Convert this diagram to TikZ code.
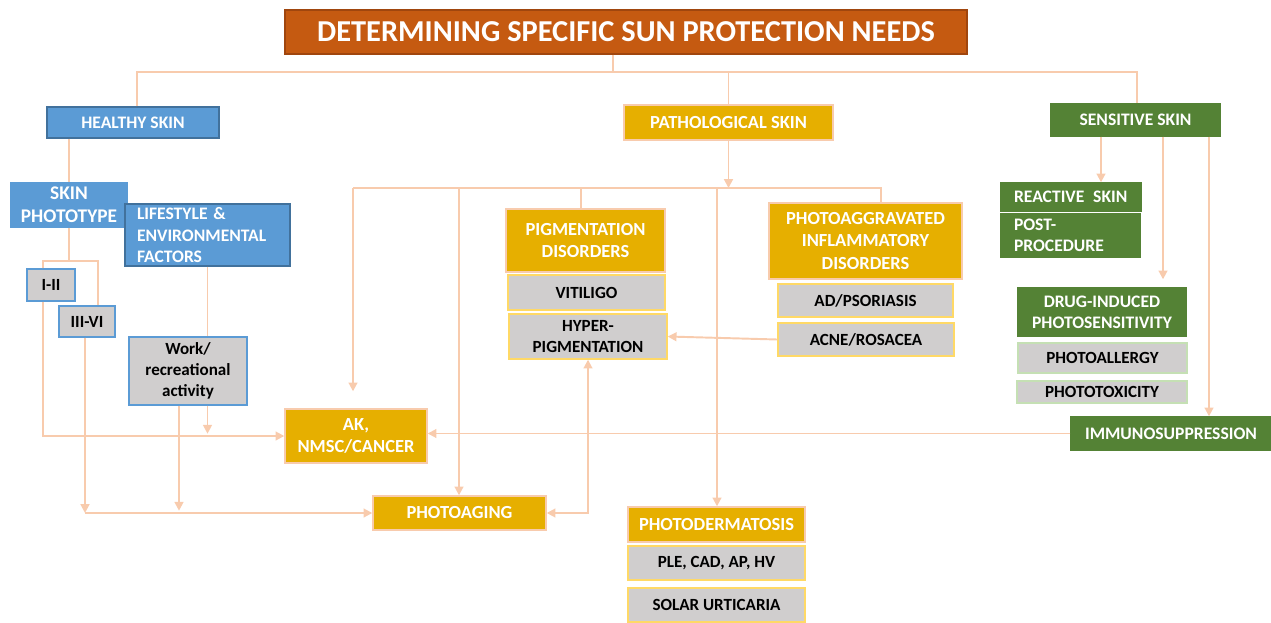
\documentclass[tikz,border=0pt]{standalone}
\usepackage{fontspec}
\setmainfont{Carlito}
\usetikzlibrary{
  arrows.meta, % Triangle arrow tips
  calc         % shifted end points
}
\definecolor{titleorange}{HTML}{C55A11}
\definecolor{titleline}{HTML}{A0460E}
\definecolor{skyblue}{HTML}{5B9BD5}
\definecolor{blueline}{HTML}{41719C}
\definecolor{goldfill}{HTML}{E6AF00}
\definecolor{peach}{HTML}{F8CBAD}
\definecolor{greyfill}{HTML}{D0CECE}
\definecolor{yellowline}{HTML}{FFD966}
\definecolor{leaf}{HTML}{548235}
\definecolor{mint}{HTML}{C5E0B4}
\newlength{\pix}
\setlength{\pix}{0.02cm}

\begin{document}
\begin{tikzpicture}[x=0.02cm, y=-0.02cm,
  >={Triangle[width=5pt, length=5pt]},
  boxsize/.style 2 args={minimum width=#1\pix, minimum height=#2\pix},
  box/.style={draw, line width=0.8pt, inner sep=0pt, align=center,
    font=\bfseries\fontsize{10}{12}\selectfont},
  titlebox/.style={box, fill=titleorange, draw=titleline, text=white,
    font=\bfseries\fontsize{17.3}{20}\selectfont},
  bluebox/.style={box, fill=skyblue, draw=blueline, text=white},
  goldbox/.style={box, fill=goldfill, draw=peach, text=white,
    font=\bfseries\fontsize{10.5}{12.6}\selectfont},
  greenbox/.style={box, fill=leaf, draw=leaf, text=white},
  greybox/.style={box, fill=greyfill, text=black,
    font=\bfseries\fontsize{9.7}{11.8}\selectfont},
  link/.style={draw=peach, line width=1.1pt},
  arr/.style={link, ->},
  both/.style={link, <->}]

  \useasboundingbox (0,0) rectangle (1271,622);

  % =========== title and the three skin groups ===========
  \node[titlebox, boxsize={682}{44}] (title) at (626,32)
    {DETERMINING SPECIFIC SUN PROTECTION NEEDS};
  \node[bluebox, boxsize={172}{31}] (healthy) at (133,122.5) {HEALTHY SKIN};
  \node[goldbox, boxsize={209}{35}] (pathological) at (728.5,122.5) {PATHOLOGICAL SKIN};
  \node[greenbox, boxsize={169}{32}] (sensitive) at (1135.5,120) {SENSITIVE SKIN};

  % =========== healthy skin ===========
  \node[bluebox, draw=skyblue, boxsize={116}{44},
    font=\bfseries\fontsize{11}{13}\selectfont] (phototype) at (69,205) {SKIN\\PHOTOTYPE};
  \node[bluebox, boxsize={165}{62}, text width=141\pix, align=left] (lifestyle)
    at (207.5,235) {LIFESTYLE \&\\ENVIRONMENTAL\\FACTORS};
  \node[greybox, draw=skyblue, boxsize={48}{32}] (oneII) at (51,285) {I-II};
  \node[greybox, draw=skyblue, boxsize={56}{31}] (threeVI) at (87,321.5) {III-VI};
  \node[greybox, draw=skyblue, boxsize={118}{68}] (work) at (188,371)
    {Work/\\recreational\\activity};

  % =========== outcomes ===========
  \node[goldbox, boxsize={142}{54}] (AK) at (356,436) {AK,\\NMSC/CANCER};
  \node[goldbox, boxsize={173}{34}] (photoaging) at (459.5,513) {PHOTOAGING};

  % =========== pathological skin ===========
  \node[goldbox, boxsize={159}{63}] (pigm) at (585.5,240.5) {PIGMENTATION\\DISORDERS};
  \node[greybox, draw=yellowline, boxsize={157}{35}] (vitiligo) at (586.5,292.5) {VITILIGO};
  \node[greybox, draw=yellowline, boxsize={158}{45}] (hyper) at (588,336.5)
    {HYPER-\\PIGMENTATION};
  \node[goldbox, boxsize={193}{76}] (photoagg) at (865.5,241)
    {PHOTOAGGRAVATED\\INFLAMMATORY\\DISORDERS};
  \node[greybox, draw=yellowline, boxsize={175}{33}] (adpso) at (865.5,300.5) {AD/PSORIASIS};
  \node[greybox, draw=yellowline, boxsize={176}{33}] (acne) at (866,339.5) {ACNE/ROSACEA};
  \node[goldbox, boxsize={177}{35}] (photoderm) at (716.5,524.5) {PHOTODERMATOSIS};
  \node[greybox, draw=yellowline, boxsize={177}{34}] (ple) at (716.5,563) {PLE, CAD, AP, HV};
  \node[greybox, draw=yellowline, boxsize={177}{34}] (solar) at (716.5,605) {SOLAR URTICARIA};

  % =========== sensitive skin ===========
  \node[greenbox, boxsize={140}{28}, text width=114\pix, align=left] (reactive)
    at (1071,197) {REACTIVE\enspace SKIN};
  \node[greenbox, boxsize={139}{43}, text width=113\pix, align=left] (post)
    at (1070.5,235.5) {POST-\\PROCEDURE};
  \node[greenbox, boxsize={168}{48}] (drug) at (1102,312) {DRUG-INDUCED\\PHOTOSENSITIVITY};
  \node[greybox, draw=mint, boxsize={169}{30}] (photoallergy) at (1102.5,358) {PHOTOALLERGY};
  \node[greybox, draw=mint, boxsize={170}{22}] (phototox) at (1102,392) {PHOTOTOXICITY};
  \node[greenbox, boxsize={200}{33}] (immuno) at (1171,433.5) {IMMUNOSUPPRESSION};

  % =========== junction points ===========
  \coordinate (hub) at (613,72);
  \coordinate (busL) at (137,72);
  \coordinate (busR) at (1137,72);
  \coordinate (splitL) at (43,261);
  \coordinate (splitR) at (98,261);
  \coordinate (ageL) at (85,513);
  \coordinate (xreact) at (1101,0);
  \coordinate (xdrug) at (1163,0);
  \coordinate (ximmu) at (1209,0);
  \coordinate (pbusL) at (353,188);
  \coordinate (pbusR) at (881,188);
  \coordinate (xage) at (459,188);
  \coordinate (xpig) at (581,188);
  \coordinate (xderm) at (717,188);

  % =========== connectors ===========
  \draw[link] (title.south -| hub) -- (hub);
  \draw[link] (healthy.north -| busL) -- (busL) -- (busR) -- (sensitive.north -| busR);
  \draw[link] (pathological.north) -- (pathological.north |- hub);

  % healthy skin branch
  \draw[link] (healthy.south -| phototype.north) -- (phototype.north);
  \draw[link] (phototype.south) -- (phototype.south |- splitL);
  \draw[link] (oneII.north -| splitL) -- (splitL) -- (splitR) -- (threeVI.north -| splitR);
  \draw[arr] (oneII.south -| splitL) |- (AK.west);
  \draw[arr] (threeVI.south -| ageL) -- (ageL);
  \draw[arr] (ageL) -- (photoaging.west);
  \draw[link] (lifestyle.south) -- (lifestyle.south |- work.north);
  \draw[arr] (work.south -| lifestyle.south) -- ++(0,28);
  \draw[arr] ($(work.south)+(-9,0)$) -- ++(0,105);

  % pathological skin branch
  \draw[arr] (pathological.south) -- (pathological.south |- pbusR);
  \draw[link] (pbusL) -- (pbusR) -- (photoagg.north -| pbusR);
  \draw[arr] (pbusL) -- ($(AK.north -| pbusL)+(0,-17)$);
  \draw[link] (xpig) -- (pigm.north -| xpig);
  \draw[arr] (xage) -- (photoaging.north -| xage);
  \draw[arr] (xderm) -- (photoderm.north -| xderm);
  \draw[arr] (acne.west) -- (hyper.east);
  \draw[both] (hyper.south) |- (photoaging.east);

  % sensitive skin branch
  \draw[arr] (sensitive.south -| xreact) -- (reactive.north -| xreact);
  \draw[arr] (sensitive.south -| xdrug) -- ($(drug.north -| xdrug)+(0,-8)$);
  \draw[arr] (sensitive.south -| ximmu) -- (immuno.north -| ximmu);
  \draw[arr] (immuno.west) -- (immuno.west -| AK.east);

\end{tikzpicture}
\end{document}
